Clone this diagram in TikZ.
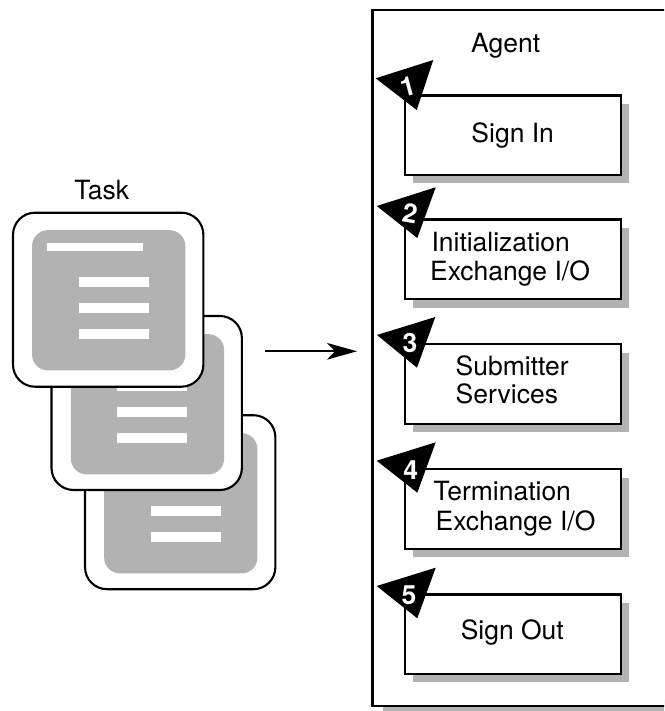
\documentclass[tikz,border=0pt]{standalone}
\usepackage{fontspec}
\setmainfont{TeX Gyre Heros}
\usepackage{xcolor}
\usetikzlibrary{arrows.meta}
\definecolor{shadegray}{gray}{0.7}
\tikzset{>={Stealth[length=0.9cm,width=0.5cm,inset=0.24cm]}}
\tikzset{
  label/.style={anchor=base,inner sep=0pt,font=\fontsize{22.6}{26}\selectfont},
  number/.style={text=white,inner sep=0pt,font=\fontsize{22.6}{26}\selectfont\bfseries},
  taskcard/.style={draw,line width=1.8pt,fill=white,rounded corners=0.66cm,minimum width=5.71cm,minimum height=5.22cm,inner sep=0pt,outer sep=0pt},
  taskpage/.style={fill=shadegray,rounded corners=0.48cm,minimum width=4.6cm,minimum height=4.21cm,inner sep=0pt,outer sep=0pt},
  stepbox/.style={draw,line width=1.8pt,fill=white,minimum width=6.49cm,minimum height=2.385cm,inner sep=0pt,outer sep=0pt}
}
\begin{document}
\begin{tikzpicture}[x=0.03cm,y=-0.03cm]

\useasboundingbox (0,0) rectangle (664,711);
\clip (0,0) rectangle (664,711);

% Task cards
\node[taskcard] (card3) at (180.2,502.2) {};
\node[taskpage] (page3) at (180.8,503.3) {};
\fill[white] (151,506) rectangle (221,516);
\fill[white] (151,532) rectangle (221,542);

\node[taskcard] (card2) at (146.7,403) {};
\node[taskpage] (page2) at (147.5,404.3) {};
\fill[white] (117,381) rectangle (187,391);
\fill[white] (117,407) rectangle (187,417);
\fill[white] (117,433) rectangle (187,443);

\node[taskcard] (card1) at (108.2,299.7) {};
\node[taskpage] (page1) at (108.7,300.3) {};
\fill[white] (47,243) rectangle (143,251);
\fill[white] (79,277) rectangle (149,287);
\fill[white] (79,303) rectangle (149,313);
\fill[white] (79,329) rectangle (149,339);

\node[label] (task) at (101.7,199.8) {Task};

% Arrow
\coordinate (arrowstart) at (265,351.3);
\coordinate (arrowend) at (357,351.3);
\draw[line width=1.8pt,->] (arrowstart) -- (arrowend);

% Agent frame
\fill[shadegray] (383,700) rectangle (680,720);
\draw[line width=2pt,fill=white] (680,10) -- (372.5,10) -- (372.5,706) -- (680,706);
\node[label] (agent) at (505.7,52.2) {Agent};

% Shadows
\fill[shadegray] (413,104) rectangle (629,183.5);
\fill[shadegray] (413,228) rectangle (629,307.5);
\fill[shadegray] (413,352.5) rectangle (629,432);
\fill[shadegray] (413,477.5) rectangle (629,557);
\fill[shadegray] (413,602.5) rectangle (629,682);

% Boxes
\node[stepbox] (signin) at (512.8,135.3) {};
\node[stepbox] (init) at (512.8,259.2) {};
\node[stepbox] (submit) at (512.8,384) {};
\node[stepbox] (term) at (512.8,509) {};
\node[stepbox] (signout) at (512.8,634.2) {};

% Box texts
\node[label] (signintext) at (512.7,142.2) {Sign In};
\node[label] (inittext) at (500.7,251.2) {Initialization};
\node[label] (initio) at (510,280.5) {Exchange I/O};
\node[label,anchor=base west] (submittext) at (455.5,375.5) {Submitter};
\node[label,anchor=base west] (services) at (455.5,403) {Services};
\node[label] (termtext) at (502.3,500.5) {Termination};
\node[label] (termio) at (515.5,530.5) {Exchange I/O};
\node[label] (signouttext) at (512.3,639.8) {Sign Out};

% Triangles
\fill (375.7,78.3) -- (433.3,60) -- (416.7,110) -- cycle;
\fill (376.7,206) -- (435.7,187.3) -- (417.3,238) -- cycle;
\fill (377,335) -- (435.3,317) -- (417,367.7) -- cycle;
\fill (376.7,460.7) -- (435.7,442.3) -- (417.3,492.7) -- cycle;
\fill (376.7,586) -- (435.7,567.7) -- (417.3,618.3) -- cycle;

% Numbers
\node[number,rotate=15] (one) at (407.7,86.7) {1};
\node[number,rotate=-10] (two) at (410,213) {2};
\node[number] (three) at (410,343) {3};
\node[number] (four) at (410.7,470) {4};
\node[number] (five) at (409,595) {5};

\end{tikzpicture}
\end{document}
